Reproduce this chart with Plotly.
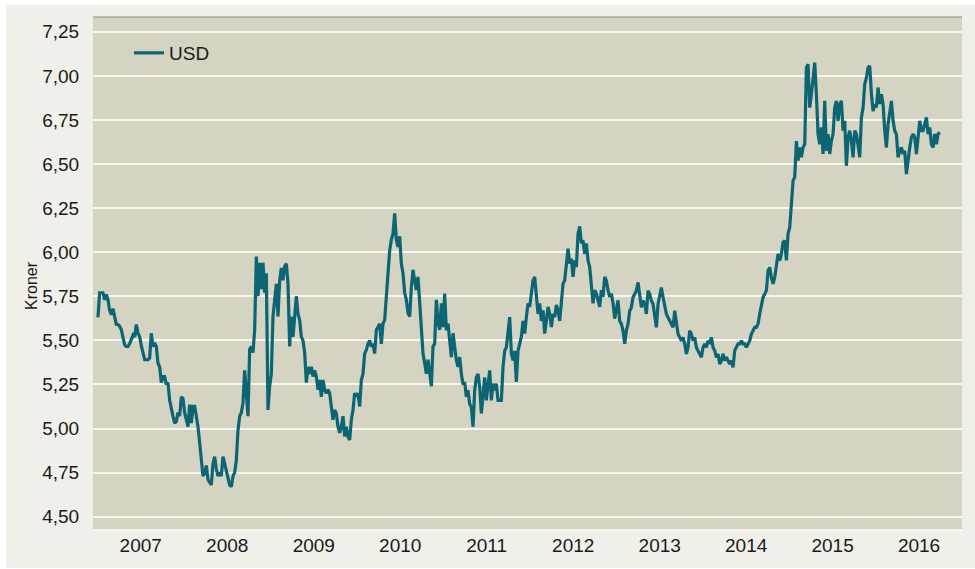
import pandas as pd
import plotly.graph_objects as go

# Weekly USD/NOK readings (kroner)
usd_2007_2008 = [
    5.63, 5.77, 5.77, 5.77, 5.73, 5.76, 5.73, 5.67, 5.645, 5.68,
    5.635, 5.59, 5.59, 5.58, 5.56, 5.52, 5.475, 5.465, 5.465, 5.48,
    5.50, 5.53, 5.52, 5.59, 5.54, 5.52, 5.47, 5.42, 5.39, 5.39,
    5.39, 5.40, 5.54, 5.465, 5.485, 5.465, 5.37, 5.35, 5.26, 5.295,
    5.295, 5.25, 5.26, 5.16, 5.105, 5.07, 5.03, 5.04, 5.09, 5.07,
    5.18, 5.17, 5.09, 5.05, 5.01, 5.135, 5.03, 5.125, 5.125, 5.07,
    5.01, 4.92, 4.84, 4.73, 4.75, 4.79, 4.71, 4.69, 4.68, 4.80,
    4.84, 4.77, 4.73, 4.75, 4.73, 4.84, 4.80, 4.75, 4.72, 4.68,
    4.67, 4.73, 4.75, 4.82, 4.99, 5.07, 5.09, 5.145, 5.33, 5.18,
    5.07, 5.45, 5.465, 5.43, 5.56, 5.975, 5.75, 5.94, 5.79, 5.94,
    5.77, 5.88, 5.105, 5.24, 5.31, 5.635,
]
usd_2009_2010 = [
    5.71, 5.82, 5.635, 5.84, 5.91, 5.84, 5.92, 5.935, 5.82, 5.465,
    5.635, 5.52, 5.635, 5.75, 5.65, 5.615, 5.52, 5.50, 5.43, 5.26,
    5.35, 5.31, 5.35, 5.295, 5.33, 5.295, 5.22, 5.275, 5.18, 5.275,
    5.22, 5.20, 5.22, 5.20, 5.125, 5.05, 5.105, 5.085, 5.01, 4.975,
    5.01, 5.07, 4.955, 5.01, 4.955, 4.935, 5.05, 5.105, 5.20, 5.18,
    5.20, 5.125, 5.275, 5.31, 5.425, 5.445, 5.48, 5.50, 5.465, 5.48,
    5.425, 5.56, 5.575, 5.595, 5.48, 5.595, 5.615, 5.75, 5.86, 6.01,
    6.07, 6.105, 6.22, 6.07, 6.03, 6.09, 5.935, 5.88, 5.77, 5.73,
    5.655, 5.635, 5.80, 5.90, 5.84, 5.785, 5.86, 5.69, 5.56, 5.425,
    5.37, 5.31, 5.39, 5.31, 5.24, 5.465, 5.48, 5.73, 5.60, 5.56,
    5.71, 5.575,
]
usd_2011_2012 = [
    5.765, 5.557, 5.595, 5.50, 5.405, 5.54, 5.463, 5.387, 5.35, 5.405,
    5.31, 5.25, 5.263, 5.18, 5.217, 5.14, 5.12, 5.01, 5.217, 5.29,
    5.31, 5.236, 5.085, 5.20, 5.29, 5.16, 5.236, 5.33, 5.16, 5.255,
    5.217, 5.255, 5.16, 5.16, 5.16, 5.35, 5.44, 5.46, 5.538, 5.632,
    5.425, 5.387, 5.44, 5.264, 5.44, 5.48, 5.52, 5.61, 5.538, 5.632,
    5.71, 5.69, 5.765, 5.84, 5.86, 5.765, 5.65, 5.71, 5.61, 5.67,
    5.538, 5.61, 5.69, 5.65, 5.576, 5.65, 5.632, 5.70, 5.67, 5.61,
    5.727, 5.82, 5.84, 5.916, 6.02, 5.935, 5.963, 5.86, 5.953, 5.916,
    6.105, 6.146, 6.05, 6.067, 5.99, 6.05, 5.953, 5.916, 5.82, 5.71,
    5.784, 5.765, 5.727, 5.69, 5.784, 5.746, 5.86, 5.84, 5.784, 5.746,
    5.765, 5.71, 5.623, 5.67, 5.727, 5.61,
]
usd_2013_2014 = [
    5.593, 5.555, 5.48, 5.555, 5.593, 5.668, 5.687, 5.744, 5.763, 5.782,
    5.829, 5.763, 5.687, 5.725, 5.706, 5.65, 5.782, 5.763, 5.725, 5.706,
    5.63, 5.574, 5.706, 5.744, 5.80, 5.744, 5.687, 5.65, 5.63, 5.612,
    5.593, 5.574, 5.668, 5.612, 5.536, 5.517, 5.498, 5.517, 5.48, 5.423,
    5.46, 5.555, 5.536, 5.498, 5.517, 5.46, 5.442, 5.423, 5.404, 5.46,
    5.48, 5.46, 5.498, 5.48, 5.517, 5.46, 5.442, 5.404, 5.423, 5.366,
    5.385, 5.423, 5.385, 5.404, 5.385, 5.366, 5.385, 5.347, 5.442, 5.46,
    5.48, 5.48, 5.498, 5.48, 5.48, 5.46, 5.48, 5.498, 5.536, 5.555,
    5.574, 5.574, 5.593, 5.65, 5.706, 5.744, 5.763, 5.782, 5.895, 5.914,
    5.857, 5.82, 5.857, 5.933, 5.99, 5.952, 5.99, 6.056,
]
usd_2014_2016 = [
    6.066, 5.953, 6.104, 6.14, 6.31, 6.406, 6.425, 6.63, 6.52, 6.594,
    6.538, 6.594, 6.613, 7.047, 7.066, 6.82, 6.896, 7.01, 7.075, 6.896,
    6.67, 6.613, 6.708, 6.557, 6.858, 6.575, 6.67, 6.557, 6.632, 6.67,
    6.82, 6.858, 6.745, 6.84, 6.858, 6.689, 6.745, 6.49, 6.651, 6.689,
    6.632, 6.538, 6.689, 6.67, 6.594, 6.538, 6.764, 6.82, 6.953, 6.99,
    7.047, 7.057, 6.90, 6.80, 6.84, 6.82, 6.934, 6.84, 6.896, 6.84,
    6.689, 6.594, 6.726, 6.783, 6.858, 6.745, 6.689, 6.67, 6.538, 6.575,
    6.594, 6.557, 6.575, 6.443, 6.538, 6.594, 6.651, 6.67, 6.651, 6.557,
    6.651, 6.745, 6.689, 6.689, 6.726, 6.764, 6.67, 6.708, 6.613, 6.594,
    6.67, 6.613, 6.67, 6.68,
]
first_date = "2007-01-03"
last_date = "2016-09-27"
y_ticks = [4.50, 4.75, 5.00, 5.25, 5.50, 5.75, 6.00, 6.25, 6.50, 6.75, 7.00, 7.25]
y_tick_labels = ["4,50", "4,75", "5,00", "5,25", "5,50", "5,75",
                 "6,00", "6,25", "6,50", "6,75", "7,00", "7,25"]
series_name = "USD"
y_title = "Kroner"

usd = usd_2007_2008 + usd_2009_2010 + usd_2011_2012 + usd_2013_2014 + usd_2014_2016
dates = pd.date_range(start=first_date, end=last_date, periods=len(usd))

LINE = "#0b6573"
PLOT_BG = "#d5d3c2"
PANEL_BG = "#f0efe9"
FONT = "Liberation Sans, Arial, sans-serif"

fig = go.Figure()
fig.add_trace(go.Scatter(
    x=dates, y=usd, mode="lines", name=series_name,
    line=dict(color=LINE, width=3.2),
))

W, H = 975, 569
ml, mr, mt, mb = 93, 13, 17, 40
pw, ph = W - ml - mr, H - mt - mb

def px_x(p):
    return (p - ml) / pw

def px_y(p):
    return (H - mb - p) / ph

fig.update_layout(
    width=W, height=H, autosize=False,
    margin=dict(l=ml, r=mr, t=mt, b=mb, pad=0),
    paper_bgcolor="white",
    plot_bgcolor=PLOT_BG,
    font=dict(family=FONT, size=19, color="#1a1a1a"),
    showlegend=True,
    legend=dict(
        x=px_x(129), y=px_y(53), xanchor="left", yanchor="middle",
        bgcolor="rgba(0,0,0,0)", font=dict(size=19),
        itemwidth=30,
    ),
    shapes=[
        dict(type="rect", xref="paper", yref="paper",
             x0=px_x(6), x1=px_x(W + 2), y0=px_y(568), y1=px_y(5),
             fillcolor=PANEL_BG, line=dict(width=0), layer="below"),
        dict(type="rect", xref="paper", yref="paper",
             x0=0, x1=1, y0=0, y1=1,
             fillcolor=PLOT_BG, line=dict(width=0), layer="below"),
        dict(type="line", xref="paper", yref="paper",
             x0=0, x1=1, y0=1, y1=1,
             line=dict(color="#8c8b83", width=1)),
    ],
    annotations=[
        dict(text=y_title, xref="paper", yref="paper",
             x=px_x(31), y=px_y(286), textangle=-90,
             showarrow=False, font=dict(size=16, color="#1a1a1a"),
             xanchor="center", yanchor="middle"),
    ],
)

fig.update_xaxes(
    type="date",
    range=["2006-12-13", "2016-12-30"],
    tick0="2007-01-01", dtick="M12", tickformat="%Y",
    ticklabelmode="period",
    showgrid=False, zeroline=False,
    ticks="", ticklabelstandoff=-2,
    showline=True, linecolor="#f7f7f2", linewidth=2,
    tickfont=dict(size=19),
    automargin=False,
)
fig.update_yaxes(
    range=[4.430, 7.334],
    tickvals=y_ticks, ticktext=y_tick_labels,
    showgrid=True, gridcolor="#f7f7f2", gridwidth=1.5,
    zeroline=False, showline=False,
    ticks="outside", ticklen=9, tickcolor="rgba(0,0,0,0)",
    tickfont=dict(size=19),
    automargin=False,
)

fig.write_html(
    "out.html",
    config={"displayModeBar": False, "responsive": False},
    post_script=(
        "document.documentElement.style.margin='0';"
        "document.documentElement.style.overflow='hidden';"
        "document.body.style.margin='0';"
        "document.body.style.padding='0';"
        "document.body.style.overflow='hidden';"
    ),
)
